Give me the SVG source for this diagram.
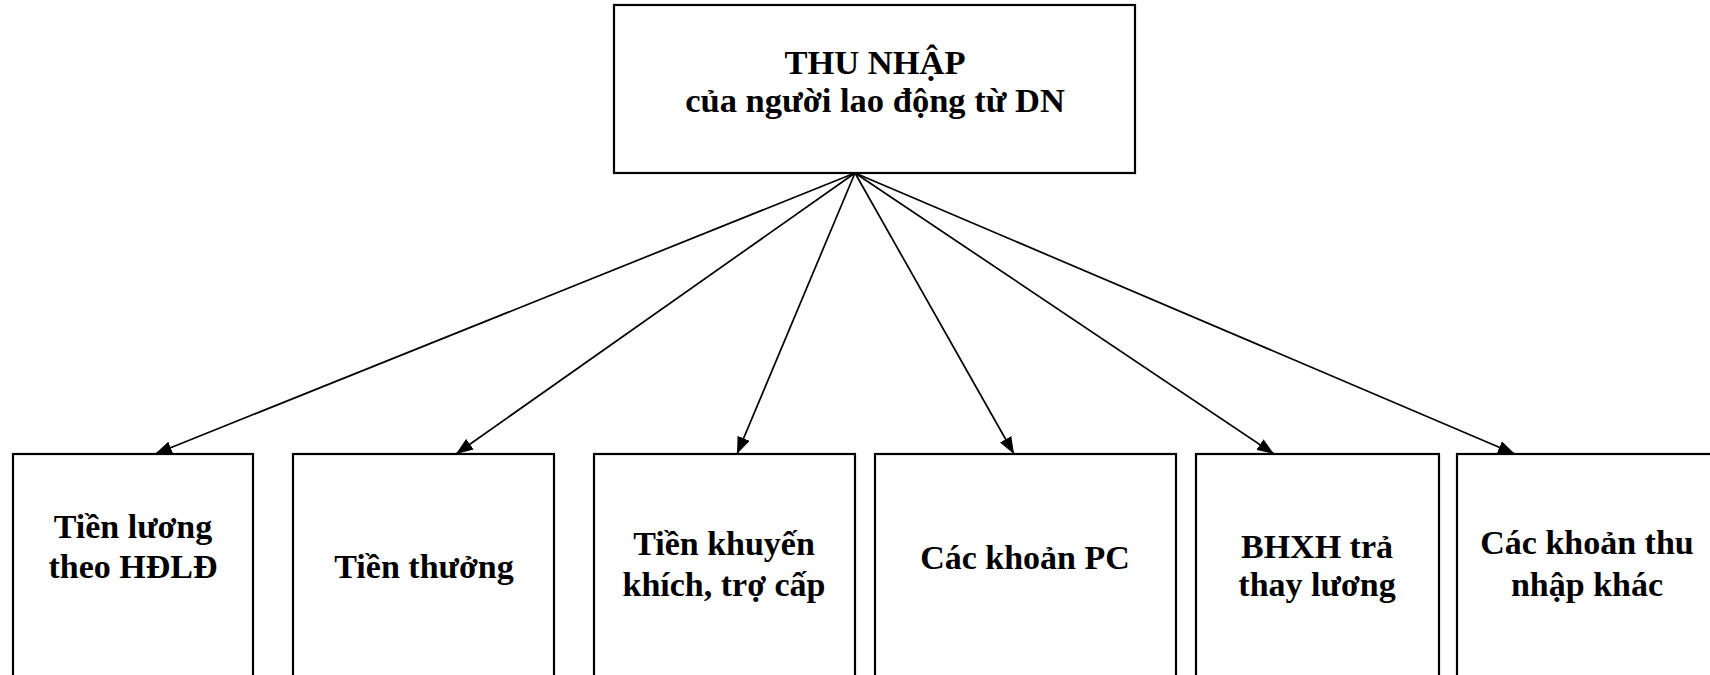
<svg xmlns="http://www.w3.org/2000/svg" width="1710" height="675" viewBox="0 0 1710 675">
<defs>
<style>
.box{fill:#fff;stroke:#000;stroke-width:2.2}
.t{font-family:"Liberation Serif","Times New Roman",serif;font-weight:bold;font-size:34px;fill:#000;text-anchor:middle}
.top{font-size:34.5px}
.c{stroke:#000;stroke-width:1.7;fill:none;marker-end:url(#ah)}
</style>
<marker id="ah" viewBox="0 0 17 13" refX="17" refY="6.5" markerWidth="17" markerHeight="13" markerUnits="userSpaceOnUse" orient="auto">
<path d="M0,0 L17,6.5 L0,13 Z" fill="#000"/>
</marker>
</defs>
<rect width="1710" height="675" fill="#fff"/>
<g id="top">
<rect class="box" x="614" y="5" width="521" height="168"/>
<text class="t top" x="875" y="74">THU NHẬP</text>
<text class="t top" x="875" y="112">của người lao động từ DN</text>
</g>
<g id="connectors">
<line class="c" x1="855" y1="173" x2="155" y2="454"/>
<line class="c" x1="855" y1="173" x2="456" y2="454"/>
<line class="c" x1="855" y1="173" x2="737" y2="454"/>
<line class="c" x1="855" y1="173" x2="1014" y2="454"/>
<line class="c" x1="855" y1="173" x2="1274" y2="454"/>
<line class="c" x1="855" y1="173" x2="1515" y2="454"/>
</g>
<g id="n1">
<rect class="box" x="13" y="454" width="240" height="250"/>
<text class="t" x="133" y="538">Tiền lương</text>
<text class="t" x="133" y="578">theo HĐLĐ</text>
</g>
<g id="n2">
<rect class="box" x="293" y="454" width="261" height="250"/>
<text class="t" x="424" y="578">Tiền thưởng</text>
</g>
<g id="n3">
<rect class="box" x="594" y="454" width="261" height="250"/>
<text class="t" x="724" y="555">Tiền khuyến</text>
<text class="t" x="724" y="596">khích, trợ cấp</text>
</g>
<g id="n4">
<rect class="box" x="875" y="454" width="301" height="250"/>
<text class="t" x="1025" y="569">Các khoản PC</text>
</g>
<g id="n5">
<rect class="box" x="1196" y="454" width="243" height="250"/>
<text class="t" x="1317" y="558">BHXH trả</text>
<text class="t" x="1317" y="596">thay lương</text>
</g>
<g id="n6">
<rect class="box" x="1457" y="454" width="262" height="250"/>
<text class="t" x="1587" y="554">Các khoản thu</text>
<text class="t" x="1587" y="596">nhập khác</text>
</g>
</svg>
